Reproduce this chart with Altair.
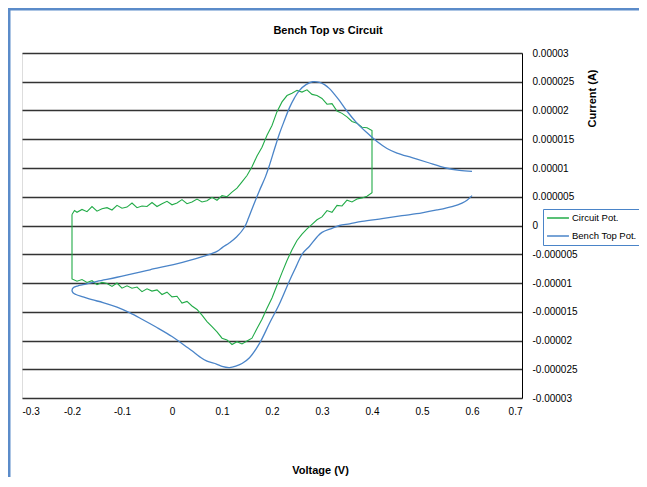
import altair as alt
import pandas as pd

# ---- data (current in microamps, voltage in volts) ----
circuit_up_v = [-0.200, -0.195, -0.190, -0.180, -0.170, -0.160, -0.150, -0.140, -0.130, -0.120,
                -0.110, -0.100, -0.090, -0.080, -0.070, -0.060, -0.050, -0.040, -0.030, -0.020,
                -0.010, 0.000, 0.010, 0.020, 0.030, 0.040, 0.050, 0.060, 0.070, 0.080,
                0.090, 0.100, 0.110, 0.120, 0.130, 0.140, 0.150, 0.160, 0.170, 0.180,
                0.190, 0.200, 0.210, 0.220, 0.230, 0.240, 0.250, 0.260, 0.270, 0.280,
                0.290, 0.300, 0.310, 0.320, 0.330, 0.340, 0.350, 0.360, 0.370, 0.380,
                0.390, 0.400]
circuit_up_ua = [1.9, 2.6, 2.3, 2.8, 2.4, 3.3, 2.5, 2.9, 3.1, 2.7,
                 3.5, 3.0, 3.2, 3.9, 3.1, 3.4, 3.3, 4.0, 3.3, 3.8,
                 4.2, 3.6, 3.9, 4.5, 3.8, 4.1, 4.6, 4.1, 4.3, 4.9,
                 4.4, 5.2, 5.0, 5.8, 6.5, 7.6, 8.7, 10.2, 12.1, 13.6,
                 15.7, 17.4, 19.8, 21.5, 22.6, 23.0, 23.5, 23.2, 23.6, 22.8,
                 22.6, 22.1, 21.1, 21.2, 19.9, 19.5, 18.9, 18.1, 17.8, 17.1,
                 17.0, 16.5]
circuit_down_v = [0.400, 0.390, 0.380, 0.370, 0.360, 0.350, 0.340, 0.330, 0.320, 0.310,
                  0.300, 0.290, 0.280, 0.270, 0.260, 0.250, 0.240, 0.230, 0.220, 0.210,
                  0.200, 0.190, 0.180, 0.170, 0.160, 0.150, 0.140, 0.130, 0.120, 0.110,
                  0.100, 0.090, 0.080, 0.070, 0.060, 0.050, 0.040, 0.030, 0.020, 0.010,
                  0.000, -0.010, -0.020, -0.030, -0.040, -0.050, -0.060, -0.070, -0.080, -0.090,
                  -0.100, -0.110, -0.120, -0.130, -0.140, -0.150, -0.160, -0.170, -0.180, -0.190,
                  -0.200]
circuit_down_ua = [5.7, 5.1, 4.8, 4.6, 4.1, 4.4, 3.4, 3.5, 2.3, 2.6,
                   1.5, 1.0, 0.2, -0.6, -1.5, -2.6, -4.2, -6.1, -8.2, -10.4,
                   -12.6, -14.4, -16.3, -17.9, -19.6, -20.1, -20.6, -20.2, -20.7, -19.9,
                   -19.6, -18.5, -17.6, -16.7, -15.6, -14.6, -14.0, -13.2, -13.5, -12.3,
                   -12.4, -11.6, -12.0, -11.2, -11.4, -11.0, -11.5, -10.7, -10.9, -10.5,
                   -10.9, -10.0, -10.6, -10.1, -9.9, -10.3, -9.6, -9.9, -9.4, -9.7,
                   -9.3]

bench_v = [0.600, 0.590, 0.580, 0.560, 0.530, 0.500, 0.460, 0.420, 0.380, 0.355,
           0.335, 0.320, 0.300, 0.290, 0.275, 0.261, 0.248, 0.235, 0.215, 0.195,
           0.175, 0.155, 0.140, 0.129, 0.115, 0.100, 0.089, 0.070, 0.055, 0.040,
           0.021, 0.000, -0.031, -0.060, -0.084, -0.110, -0.138, -0.160, -0.178, -0.192,
           -0.198, -0.200, -0.197, -0.188, -0.178, -0.150, -0.110, -0.044, 0.021, 0.069,
           0.090, 0.101, 0.115, 0.129, 0.145, 0.153, 0.161, 0.175, 0.187, 0.195,
           0.205, 0.215, 0.225, 0.235, 0.245, 0.255, 0.268, 0.281, 0.295, 0.305,
           0.315, 0.325, 0.335, 0.349, 0.369, 0.389, 0.410, 0.430, 0.450, 0.480,
           0.510, 0.548, 0.575, 0.600]
bench_ua = [5.2, 4.4, 3.9, 3.3, 2.7, 2.2, 1.7, 1.2, 0.7, 0.3,
            0.0, -0.5, -1.2, -2.0, -3.6, -4.9, -7.2, -9.6, -13.6, -17.0,
            -20.5, -23.0, -24.0, -24.4, -24.7, -24.5, -24.1, -23.6, -22.8, -21.8,
            -20.6, -19.3, -17.7, -16.3, -15.2, -14.2, -13.4, -12.9, -12.4, -12.0,
            -11.7, -11.3, -10.8, -10.5, -10.3, -9.7, -9.0, -7.7, -6.4, -5.2,
            -4.5, -3.8, -3.0, -2.0, -0.3, 1.3, 3.1, 6.1, 8.5, 10.5,
            13.3, 16.0, 18.3, 20.5, 22.2, 23.5, 24.5, 25.0, 24.9, 24.5,
            23.8, 22.8, 21.7, 20.0, 17.9, 16.2, 14.6, 13.4, 12.6, 11.8,
            11.0, 10.0, 9.6, 9.4]

x_ticks = [-0.3, -0.2, -0.1, 0, 0.1, 0.2, 0.3, 0.4, 0.5, 0.6, 0.7]
y_ticks = [0.00003, 0.000025, 0.00002, 0.000015, 0.00001, 0.000005, 0,
           -0.000005, -0.00001, -0.000015, -0.00002, -0.000025, -0.00003]

series_names = ["Circuit Pot.", "Bench Top Pot."]
series_colors = ["#22ab48", "#4a84c8"]

# ---- build tables ----
circ_v = circuit_up_v + circuit_down_v + [circuit_up_v[0]]
circ_i = circuit_up_ua + circuit_down_ua + [circuit_up_ua[0]]
circuit = pd.DataFrame({
    "V": circ_v,
    "I": [round(a * 1e-6, 12) for a in circ_i],
    "series": series_names[0],
    "k": list(range(len(circ_v))),
})
bench = pd.DataFrame({
    "V": bench_v,
    "I": [round(a * 1e-6, 12) for a in bench_ua],
    "series": series_names[1],
    "k": list(range(len(bench_v))),
})

FONT = "Liberation Sans"

x_enc = alt.X("V:Q",
              scale=alt.Scale(domain=[-0.3, 0.7], nice=False, zero=False),
              axis=alt.Axis(values=x_ticks, labelExpr="toString(datum.value)",
                            grid=False, domain=False, ticks=False, tickSize=0,
                            labelPadding=8, labelFontSize=10, labelFont=FONT,
                            labelColor="black",
                            title="Voltage (V)", titleFont=FONT, titleFontSize=11,
                            titleFontWeight="bold", titleColor="black",
                            titleX=298, titleY=72, titleAlign="center",
                            titleBaseline="middle"))
y_enc = alt.Y("I:Q",
              scale=alt.Scale(domain=[-0.00003, 0.00003], nice=False, zero=False),
              axis=alt.Axis(orient="right", values=y_ticks,
                            labelExpr="toString(datum.value)",
                            grid=True, gridColor="#333333", gridWidth=1.4,
                            domain=True, domainColor="black", domainWidth=1,
                            ticks=False, tickSize=0, labelPadding=10,
                            labelAlign="left", labelFontSize=10, labelFont=FONT,
                            labelColor="black",
                            title="Current (A)", titleFont=FONT, titleFontSize=11,
                            titleFontWeight="bold", titleColor="black",
                            titleAngle=270, titleX=70, titleY=45,
                            titleAlign="center", titleBaseline="middle"))
color_enc = alt.Color("series:N",
                      scale=alt.Scale(domain=series_names, range=series_colors),
                      legend=alt.Legend(title=None, orient="none", legendX=521, legendY=156,
                                        symbolType="stroke", symbolSize=480,
                                        symbolStrokeWidth=1.5, labelFontSize=9.5,
                                        labelFont=FONT, labelColor="black",
                                        strokeColor="#4a84c8", fillColor="white",
                                        padding=3, rowPadding=6, clipHeight=12,
                                        labelOffset=2))

green = alt.Chart(circuit).mark_line(strokeWidth=1.1).encode(
    x=x_enc, y=y_enc, color=color_enc, order=alt.Order("k:Q"))
blue = alt.Chart(bench).mark_line(strokeWidth=1.3, interpolate="catmull-rom").encode(
    x=x_enc, y=y_enc, color=color_enc, order=alt.Order("k:Q"))

frame_top = alt.Chart(pd.DataFrame({"a": [0]})).mark_rule(
    color="#5b8bc9", strokeWidth=3).encode(
    x=alt.value(-14), x2=alt.value(620), y=alt.value(-44))
frame_left = alt.Chart(pd.DataFrame({"a": [0]})).mark_rule(
    color="#5b8bc9", strokeWidth=3).encode(
    x=alt.value(-13), y=alt.value(-45), y2=alt.value(430))

chart = alt.layer(frame_top, frame_left, green, blue).properties(
    width=500, height=345,
    autosize=alt.AutoSizeParams(type="none"),
    padding={"left": 14, "top": 45, "right": 117, "bottom": 79},
    title=alt.Title("Bench Top vs Circuit", font=FONT, fontSize=11,
                    fontWeight="bold", color="black", anchor="middle",
                    frame="group", dx=56, offset=0, dy=29),
).configure_view(stroke=None).configure(background="white")

chart.save("out.html", embed_options={"renderer": "svg", "actions": False})
